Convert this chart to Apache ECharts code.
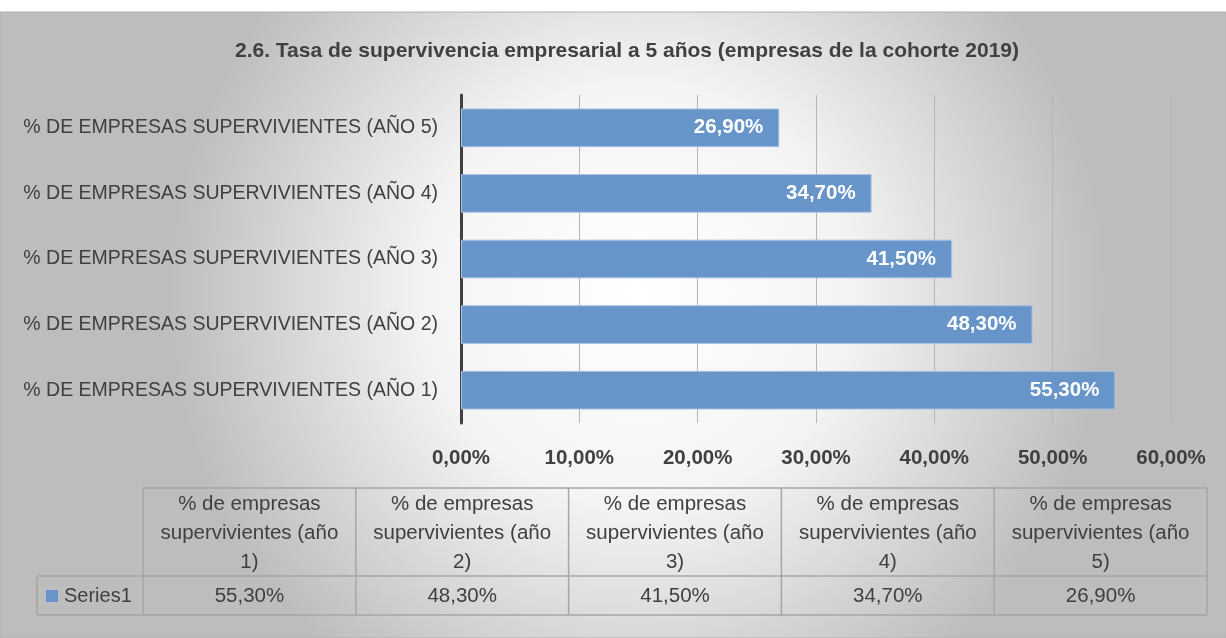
<!DOCTYPE html>
<html>
<head>
<meta charset="utf-8">
<script src="https://cdn.jsdelivr.net/npm/echarts@6/dist/echarts.min.js"></script>
<style>
  html, body { margin: 0; padding: 0; background: #fff; }
  #chart { width: 1226px; height: 638px; }
</style>
</head>
<body>
<div id="chart"></div>
<script>
// datos
const categories = [
  '% DE EMPRESAS SUPERVIVIENTES (AÑO 1)',
  '% DE EMPRESAS SUPERVIVIENTES (AÑO 2)',
  '% DE EMPRESAS SUPERVIVIENTES (AÑO 3)',
  '% DE EMPRESAS SUPERVIVIENTES (AÑO 4)',
  '% DE EMPRESAS SUPERVIVIENTES (AÑO 5)'
];
const tableHeaders = [
  '% de empresas\nsupervivientes (año\n1)',
  '% de empresas\nsupervivientes (año\n2)',
  '% de empresas\nsupervivientes (año\n3)',
  '% de empresas\nsupervivientes (año\n4)',
  '% de empresas\nsupervivientes (año\n5)'
];
const seriesName = 'Series1';
const seriesValues = [55.3, 48.3, 41.5, 34.7, 26.9];
const xTicks = [0, 10, 20, 30, 40, 50, 60];

const fmt = v => v.toFixed(2).replace('.', ',') + '%';
const FONT = 'Liberation Sans';
const textColor = '#404040';

const myChart = echarts.init(document.getElementById('chart'));

// tabla de datos (debajo del eje)
const tbl = { x0: 37, x1: 143, top: 488, mid: 576, bottom: 615 };
const colW = (1207 - tbl.x1) / tableHeaders.length;
const border = { stroke: '#a6a6a6', lineWidth: 1.5 };
const cellFont = '20.5px "' + FONT + '"';
const tableGraphics = [];
// lineas horizontales
tableGraphics.push({ type: 'line', shape: { x1: tbl.x1, y1: tbl.top, x2: 1207, y2: tbl.top }, style: border });
tableGraphics.push({ type: 'line', shape: { x1: tbl.x0, y1: tbl.mid, x2: 1207, y2: tbl.mid }, style: border });
tableGraphics.push({ type: 'line', shape: { x1: tbl.x0, y1: tbl.bottom, x2: 1207, y2: tbl.bottom }, style: border });
tableGraphics.push({ type: 'line', shape: { x1: tbl.x0, y1: tbl.mid, x2: tbl.x0, y2: tbl.bottom }, style: border });
for (let i = 0; i <= tableHeaders.length; i++) {
  const x = tbl.x1 + colW * i;
  tableGraphics.push({ type: 'line', shape: { x1: x, y1: tbl.top, x2: x, y2: tbl.bottom }, style: border });
}
tableHeaders.forEach((h, i) => {
  const cx = tbl.x1 + colW * (i + 0.5);
  tableGraphics.push({
    type: 'text', x: cx, y: (tbl.top + tbl.mid) / 2 + 1,
    style: { text: h, fill: textColor, font: cellFont, align: 'center', verticalAlign: 'middle', lineHeight: 29 }
  });
  tableGraphics.push({
    type: 'text', x: cx, y: (tbl.mid + tbl.bottom) / 2 + 1,
    style: { text: fmt(seriesValues[i]), fill: textColor, font: cellFont, align: 'center', verticalAlign: 'middle' }
  });
});
// clave de leyenda
tableGraphics.push({ type: 'rect', shape: { x: 46, y: 590, width: 12, height: 12 }, style: { fill: '#6795c9' } });
tableGraphics.push({
  type: 'text', x: 64, y: (tbl.mid + tbl.bottom) / 2 + 1,
  style: { text: seriesName, fill: textColor, font: '20px "' + FONT + '"', align: 'left', verticalAlign: 'middle' }
});

myChart.setOption({
  animation: false,
  backgroundColor: '#ffffff',
  textStyle: { fontFamily: FONT },
  title: {
    text: '2.6. Tasa de supervivencia empresarial a 5 años (empresas de la cohorte 2019)',
    left: 622,
    textAlign: 'center',
    top: 36,
    textStyle: { color: textColor, fontSize: 21, fontWeight: 'bold', fontFamily: FONT }
  },
  graphic: [
    {
      type: 'rect', z: -10, silent: true,
      shape: { x: 0, y: 12, width: 1226, height: 626 },
      style: {
        fill: new echarts.graphic.RadialGradient(0.52, 0.45, 0.75, [
          { offset: 0, color: '#ffffff' },
          { offset: 0.45, color: '#f4f4f4' },
          { offset: 1, color: '#bdbdbd' }
        ]),
        stroke: '#b0b0b0', lineWidth: 1
      }
    },
    ...tableGraphics
  ],
  grid: {
    left: 461,
    right: 55,
    top: 95,
    bottom: 215,
    containLabel: false
  },
  xAxis: {
    type: 'value',
    min: 0,
    max: 60,
    interval: 10,
    axisLine: { show: false },
    axisTick: { show: false },
    splitLine: { show: true, lineStyle: { color: '#b5b5b5', width: 1 } },
    axisLabel: {
      margin: 25,
      color: textColor,
      fontSize: 20.5,
      fontWeight: 'bold',
      formatter: v => fmt(v)
    }
  },
  yAxis: {
    type: 'category',
    data: categories,
    axisTick: { show: false },
    axisLine: { show: true, lineStyle: { color: '#404040', width: 3 } },
    axisLabel: { margin: 23, color: textColor, fontSize: 19.5 }
  },
  series: [
    {
      name: seriesName,
      type: 'bar',
      barWidth: '59%',
      data: seriesValues,
      itemStyle: { color: '#6795c9', borderColor: '#a9c3e3', borderWidth: 1 },
      label: {
        show: true,
        position: 'insideRight',
        distance: 16,
        color: '#ffffff',
        fontSize: 20.5,
        fontWeight: 'bold',
        formatter: p => fmt(p.value)
      }
    }
  ]
});
</script>
</body>
</html>
